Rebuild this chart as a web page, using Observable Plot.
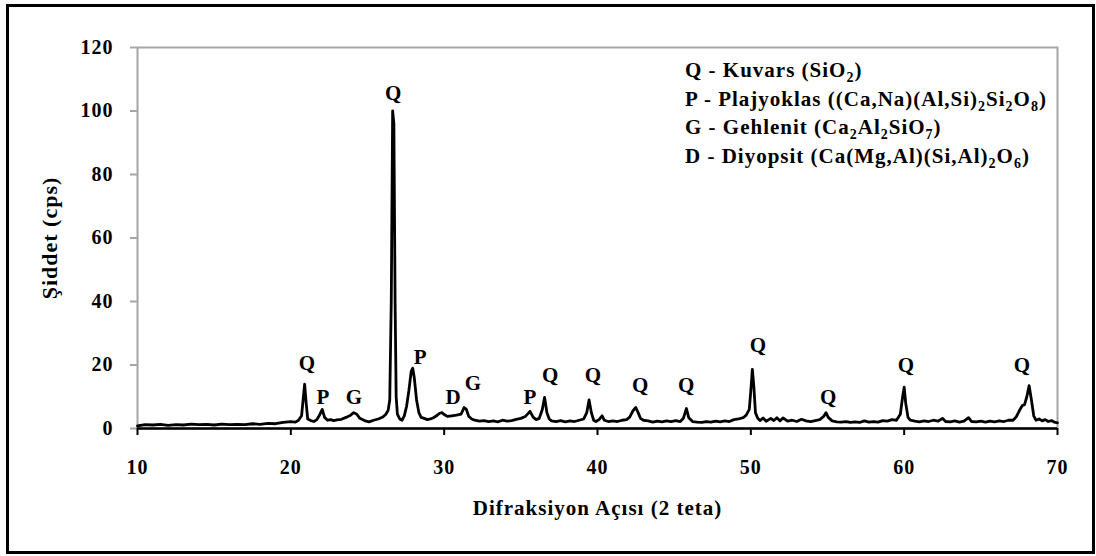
<!DOCTYPE html>
<html><head><meta charset="utf-8">
<script src="https://cdn.jsdelivr.net/npm/d3@7"></script>
<script src="https://cdn.jsdelivr.net/npm/@observablehq/plot@0.6"></script>
<style>body{margin:0;background:#fff}</style>
</head><body><div id="chart"></div>
<script>
const twoTheta = [10,10.5,11,11.5,12,12.5,13,13.5,14,14.5,15,15.5,16,16.5,17,17.5,18,18.5,19,19.5,20,20.3,20.5,20.7,20.8,20.9,21.0,21.1,21.3,21.5,21.7,21.9,22.05,22.2,22.4,22.6,22.8,23.0,23.3,23.6,23.9,24.1,24.3,24.5,24.8,25.1,25.4,25.7,26.0,26.2,26.35,26.45,26.55,26.64,26.72,26.8,26.87,26.95,27.1,27.25,27.4,27.55,27.7,27.85,27.95,28.05,28.2,28.35,28.5,28.7,28.9,29.1,29.3,29.5,29.7,29.85,30.0,30.2,30.5,30.8,31.1,31.3,31.45,31.6,31.8,32.0,32.3,32.6,32.9,33.2,33.5,33.8,34.1,34.4,34.7,35.0,35.3,35.6,35.8,36.0,36.2,36.4,36.55,36.7,36.85,37.0,37.3,37.6,37.9,38.2,38.5,38.8,39.1,39.3,39.45,39.6,39.75,39.9,40.1,40.3,40.45,40.7,41.0,41.3,41.6,41.9,42.1,42.3,42.5,42.65,42.8,43.0,43.3,43.6,43.9,44.2,44.5,44.8,45.1,45.4,45.6,45.8,45.95,46.2,46.5,46.8,47.1,47.4,47.7,48.0,48.3,48.6,48.9,49.2,49.5,49.7,49.9,50.0,50.1,50.2,50.3,50.45,50.6,50.8,51.0,51.3,51.5,51.7,51.9,52.1,52.4,52.7,53.0,53.3,53.6,53.9,54.2,54.5,54.75,54.9,55.05,55.3,55.6,55.9,56.2,56.5,56.8,57.1,57.4,57.7,58.0,58.3,58.6,58.9,59.2,59.5,59.75,59.9,60.0,60.1,60.25,60.4,60.7,61.0,61.3,61.6,61.9,62.2,62.5,62.7,63.0,63.3,63.6,63.9,64.2,64.4,64.7,65.0,65.3,65.6,65.9,66.2,66.5,66.8,67.1,67.3,67.5,67.7,67.85,68.0,68.15,68.3,68.45,68.6,68.8,69.0,69.2,69.4,69.6,69.8,70.0];
const intensity = [0.8,1.2,1.1,1.3,1.0,1.2,1.1,1.4,1.2,1.3,1.1,1.4,1.2,1.3,1.2,1.5,1.3,1.6,1.5,1.9,2.2,2.0,2.6,4,9,14,8,3,2.5,2.2,2.8,4.5,6,3.5,2.6,2.8,2.5,2.7,2.9,3.5,4.2,5,4.5,3.2,2.5,2.1,2.6,3,3.6,4.5,5.8,9,40,100,96,40,10,4.5,3,2.6,4,7,12,18,19,16,9,5,3.5,3.2,2.8,3,3.4,4,4.8,5,4.4,3.8,4,4.2,4.5,6.6,6,3.8,3,2.6,2.3,2.5,2.2,2.4,2.1,2.6,2.3,2.5,2.9,3.2,3.8,5.4,3.6,2.8,3.2,6,9.8,5,3,2.4,2.2,2.5,2.1,2.4,2.2,2.6,3,5,9,5,2.6,2.2,2.8,4,2.6,2.2,2.4,2.2,2.6,2.8,3.6,5.5,6.6,5,3.2,2.6,2.4,2,2.3,2.1,2.4,2.2,2.5,2.2,3.2,6.3,3.4,2.2,2,1.9,2.2,2,2.3,2.1,2.4,2.2,2.8,3,3.4,4.2,6,12,18.6,13,5,3.2,2.5,3.3,2.3,3.2,2.5,3.4,2.4,3.3,2.3,2.6,2.2,2.9,2.4,2.2,2.5,2.8,3.8,5,3.5,2.4,2.1,2.0,2.2,1.9,2.1,1.9,2.4,2.0,2.2,2.0,2.5,2.3,2.8,2.6,4.5,10,13,8,3.5,2.6,2.3,2.1,2.4,2.2,2.6,2.3,3.2,2.2,2.1,2.4,2.0,2.3,3.4,2.2,2.1,2.3,2.0,2.3,2.1,2.4,2.2,2.6,2.6,3.6,5.5,7.2,7.5,10,13.5,9,4,2.6,3,2.4,2.8,2.2,2.5,2.0,1.8];

const peakLabels = ["Q","P","G","Q","P","D","G","P","Q","Q","Q","Q","Q","Q","Q","Q"];
const peakLabelX = [21.09,22.13,24.15,26.70,28.46,30.61,31.91,35.63,36.94,39.74,42.81,45.81,50.50,55.07,60.15,67.72];
const peakLabelY = [20.5,9.8,9.8,105.5,22.4,9.8,14.2,9.8,16.7,16.7,13.5,13.5,26.1,9.8,19.8,19.8];

const xTicks = [10,20,30,40,50,60,70];
const yTicks = [0,20,40,60,80,100,120];
const xTitle = "Difraksiyon Açısı (2 teta)";
const yTitle = "Şiddet (cps)";

// legend: each line is a list of [text, isSubscript]
const legendQ = [["Q - Kuvars (SiO",0],["2",1],[")",0]];
const legendP = [["P - Plajyoklas ((Ca,Na)(Al,Si)",0],["2",1],["Si",0],["2",1],["O",0],["8",1],[")",0]];
const legendG = [["G - Gehlenit (Ca",0],["2",1],["Al",0],["2",1],["SiO",0],["7",1],[")",0]];
const legendD = [["D - Diyopsit (Ca(Mg,Al)(Si,Al)",0],["2",1],["O",0],["6",1],[")",0]];
const legendLines = [legendQ, legendP, legendG, legendD];

const pattern = twoTheta.map((x, i) => ({x, y: intensity[i]}));
const FONT = "'Liberation Serif', 'Times New Roman', serif";

const svg = Plot.plot({
  width: 1096,
  height: 556,
  marginLeft: 137,
  marginRight: 39,
  marginTop: 47,
  marginBottom: 128,
  style: {fontFamily: FONT, fontWeight: "bold", fontSize: "20px", letterSpacing: "1px", background: "#fff", overflow: "visible"},
  x: {domain: [10, 70]},
  y: {domain: [0, 120]},
  marks: [
    Plot.frame({stroke: "#a6a6a6", strokeWidth: 2}),
    Plot.axisY({ticks: yTicks, tickSize: 7, tickPadding: 17, stroke: "#a6a6a6", strokeWidth: 2, fill: "black", fontSize: 20, label: null}),
    Plot.axisY({ticks: [], label: yTitle, labelAnchor: "center", labelOffset: 96, labelArrow: "none", fontSize: 22}),
    Plot.axisX({ticks: xTicks, tickSize: 7, tickPadding: 24, stroke: "black", strokeWidth: 2, fill: "black", fontSize: 20, label: null}),
    Plot.axisX({ticks: [], label: xTitle, labelAnchor: "center", labelOffset: 86, labelArrow: "none", fontSize: 21}),
    Plot.ruleY([0], {stroke: "black", strokeWidth: 2.5}),
    Plot.line(pattern, {x: "x", y: "y", stroke: "black", strokeWidth: 2.8, strokeLinejoin: "round"}),
    Plot.text(peakLabels, {x: (d, i) => peakLabelX[i], y: (d, i) => peakLabelY[i], text: d => d, fontSize: 21, fontWeight: "bold", fill: "black"})
  ]
});

const root = d3.select(svg);
root.append("rect")
  .attr("x", 7.5).attr("y", 5.5).attr("width", 1086).attr("height", 547)
  .attr("fill", "none").attr("stroke", "black").attr("stroke-width", 3);

const legendBaselines = [77, 106, 134, 163];
legendLines.forEach((parts, i) => {
  const t = root.append("text")
    .attr("x", 685).attr("y", legendBaselines[i])
    .attr("font-family", FONT).attr("font-weight", "bold").attr("font-size", 21)
    .attr("letter-spacing", "1px")
    .attr("text-anchor", "start").attr("fill", "black");
  let sub = false;
  parts.forEach(([s, isSub]) => {
    const sp = t.append("tspan").text(s);
    if (isSub && !sub) { sp.attr("dy", 5).attr("font-size", 14); sub = true; }
    else if (isSub) { sp.attr("font-size", 14); }
    else if (!isSub && sub) { sp.attr("dy", -5); sub = false; }
  });
});

document.getElementById("chart").appendChild(svg);
</script>
</body></html>
